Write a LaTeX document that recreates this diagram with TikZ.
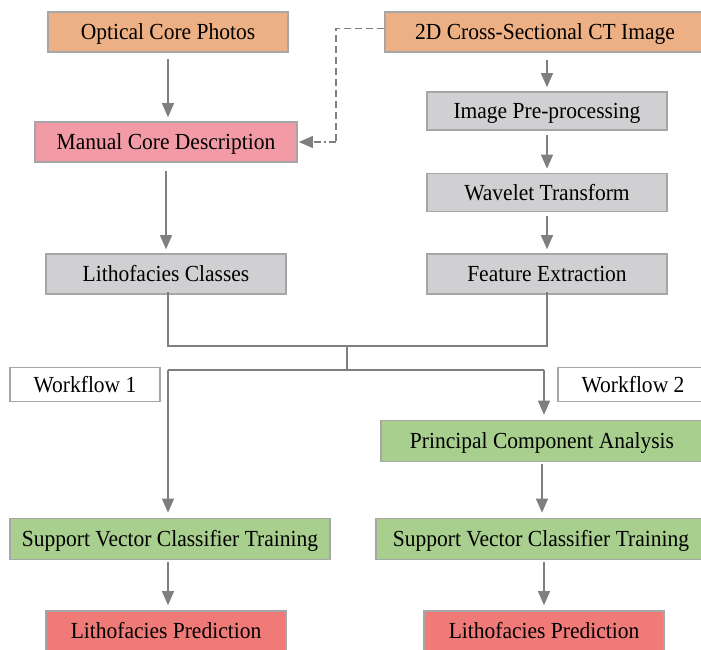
\documentclass[tikz,border=0pt]{standalone}
\usepackage{fontspec}
\setmainfont{Liberation Serif}[FakeStretch=0.935]
\usetikzlibrary{arrows.meta}
\definecolor{borderc}{HTML}{A6A6A6}
\definecolor{arrc}{HTML}{7F7F7F}
\definecolor{orangef}{HTML}{EDB084}
\definecolor{pinkf}{HTML}{F29AA6}
\definecolor{grayf}{HTML}{D0D0D2}
\definecolor{greenf}{HTML}{A9CF8E}
\definecolor{redf}{HTML}{F07A77}
\tikzset{
  box/.style={draw=borderc, line width=1.6pt, inner sep=0pt, text height=15pt, text depth=0pt, font=\fontsize{23}{26}\selectfont},
  arr/.style={draw=arrc, line width=1.2pt, -{Triangle[width=12pt,length=14pt]}},
  lin/.style={draw=arrc, line width=1.2pt},
}
\begin{document}
\begin{tikzpicture}[x=1pt,y=-1pt]
\useasboundingbox (0,0) rectangle (701,649);
\clip (0,0) rectangle (701,649);
\node[box, fill=orangef, minimum width=240pt, minimum height=40pt] (ocp) at (168,32) {Optical Core Photos};
\node[box, fill=orangef, minimum width=320pt, minimum height=40pt] (ct) at (545,32) {2D Cross-Sectional CT Image};
\node[box, fill=pinkf, minimum width=262pt, minimum height=40pt] (mcd) at (166,142) {Manual Core Description};
\node[box, fill=grayf, minimum width=240pt, minimum height=38pt] (ipp) at (547,111) {Image Pre-processing};
\node[box, fill=grayf, minimum width=240pt, minimum height=38pt] (wt) at (547,192.5) {Wavelet Transform};
\node[box, fill=grayf, minimum width=240pt, minimum height=40pt] (lc) at (166,274) {Lithofacies Classes};
\node[box, fill=grayf, minimum width=240pt, minimum height=40pt] (fe) at (547,274) {Feature Extraction};
\node[box, fill=white, minimum width=150pt, minimum height=34pt] (wf1) at (85,384.5) {Workflow 1};
\node[box, fill=white, minimum width=150pt, minimum height=34pt] (wf2) at (633,384.5) {Workflow 2};
\node[box, fill=greenf, minimum width=322pt, minimum height=41pt] (pca) at (542,441) {Principal Component Analysis};
\node[box, fill=greenf, minimum width=320pt, minimum height=41pt] (svc1) at (170,539) {Support Vector Classifier Training};
\node[box, fill=greenf, minimum width=330pt, minimum height=41pt] (svc2) at (541,539) {Support Vector Classifier Training};
\node[box, fill=redf, minimum width=240pt, minimum height=40pt] (lp1) at (166,631) {Lithofacies Prediction};
\node[box, fill=redf, minimum width=240pt, minimum height=40pt] (lp2) at (544,631) {Lithofacies Prediction};

\coordinate (j1) at (168,346);
\coordinate (j2) at (547,346);
\coordinate (jc) at (347,346);
\coordinate (kc) at (347,370);
\coordinate (k1) at (168,370);
\coordinate (k2) at (544,370);
\coordinate (dtop) at (336,28.5);
\coordinate (dbot) at (336,142);

\draw[arr, shorten <=6pt] (ocp.south) -- (ocp.south |- mcd.north) [shorten >=4pt];
\draw[arr, shorten <=7pt, shorten >=4pt] (ct.south -| ipp.north) -- (ipp.north);
\draw[arr, shorten <=4pt, shorten >=4pt] (ipp.south) -- (wt.north);
\draw[arr, shorten <=4pt, shorten >=4pt] (wt.south) -- (fe.north);
\draw[arr, shorten <=8pt, shorten >=4pt] (mcd.south -| lc.north) -- (lc.north);
\draw[lin, dash pattern=on 7pt off 4pt] (ct.west |- dtop) -- (dtop) -- (dbot);
\draw[draw=arrc, line width=1.2pt, dash pattern=on 7pt off 3pt on 2pt off 3pt, -{Triangle[width=12pt,length=14pt]}, shorten >=1pt]
  (dbot) -- (mcd.east);
\draw[lin] ([yshift=3pt]lc.south -| j1) -- (j1) -- (j2) -- ([yshift=3pt]fe.south);
\draw[lin] (jc) -- (kc);
\draw[lin] (k1) -- (k2);
\draw[arr, shorten >=5pt] (k1) -- (k1 |- svc1.north);
\draw[arr, shorten >=5pt] (k2) -- (k2 |- pca.north);
\draw[arr, shorten <=2pt, shorten >=5pt] (pca.south) -- (pca.south |- svc2.north);
\draw[arr, shorten <=2pt, shorten >=5pt] (svc1.south -| k1) -- (k1 |- lp1.north);
\draw[arr, shorten <=2pt, shorten >=5pt] (svc2.south -| k2) -- (k2 |- lp2.north);
\end{tikzpicture}
\end{document}
